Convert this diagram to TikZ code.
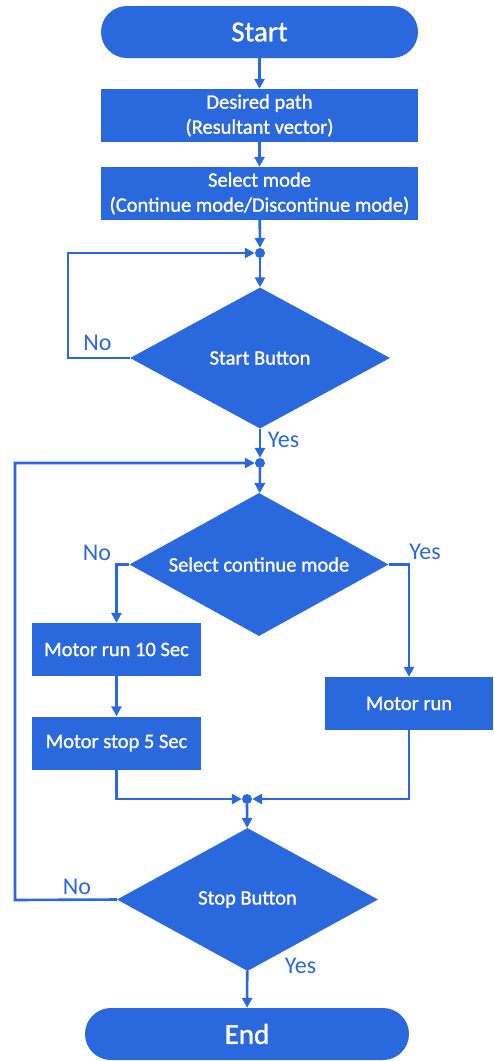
\documentclass[tikz,border=0pt]{standalone}
\usepackage{fontspec}
\setmainfont{Carlito}
\newfontfamily\boxfont[FakeBold=1.2]{Carlito}
\usetikzlibrary{shapes.geometric,arrows.meta}
\definecolor{fc}{RGB}{42,104,222}
\tikzset{
  term/.style={draw=none,fill=fc,text=white,rounded corners=26pt,minimum width=317pt,minimum height=52pt,inner sep=0pt,font=\boxfont\fontsize{29}{32}\selectfont},
  proc/.style={draw=none,fill=fc,text=white,minimum height=53pt,inner sep=0pt,align=center,font=\boxfont\fontsize{20.5}{25}\selectfont},
  dec/.style={draw=none,fill=fc,text=white,diamond,aspect=1.84,inner sep=0pt,minimum width=260pt,minimum height=141pt,font=\boxfont\fontsize{20.5}{25}\selectfont},
  dot/.style={circle,fill=fc,minimum size=10pt,inner sep=0pt},
  conn/.style={draw=fc,line width=2.6pt,-{Triangle[length=10pt,width=10pt]}},
  lab/.style={text=fc,font=\fontsize{24}{26}\selectfont,inner sep=0pt}
}
\begin{document}
\begin{tikzpicture}[x=1pt,y=-1pt]
\useasboundingbox (0,0) rectangle (494,1061);
\node[term] (start) at (259.5,32) {Start};
\node[proc,minimum width=317pt] (desired) at (259.5,115.5) {Desired path\\(Resultant vector)};
\node[proc,minimum width=317pt] (select) at (259.5,193.5) {Select mode\\(Continue mode/Discontinue mode)};
\node[dot] (j1) at (260,253) {};
\node[dec] (sb) at (260,358) {Start Button};
\node[dot] (j2) at (260,463) {};
\node[dec,minimum width=259pt,minimum height=143pt] (scm) at (259,564.5) {Select continue mode};
\node[proc,minimum width=169pt] (m10) at (116.5,649.5) {Motor run 10 Sec};
\node[proc,minimum width=169pt] (m5) at (116.5,743) {Motor stop 5 Sec};
\node[proc,minimum width=168pt] (mr) at (409,703.5) {Motor run};
\node[dot] (j3) at (247,799) {};
\node[dec,minimum width=261pt,minimum height=143pt] (stop) at (247.5,899.5) {Stop Button};
\node[term,minimum width=324pt] (end) at (247,1034) {End};
\coordinate (l1) at (68,358);
\coordinate (l2) at (15,900);

\draw[conn] (start) -- (desired);
\draw[conn] (desired) -- (select);
\draw[conn] (select) -- (j1);
\draw[conn] (j1) -- (sb);
\draw[conn] (sb.west) -- (l1) |- (j1);
\draw[conn] (sb) -- (j2);
\draw[conn] (j2) -- (scm);
\draw[conn] (scm.west) -| (m10.north);
\draw[conn] (scm.east) -| (mr.north);
\draw[conn] (m10) -- (m5);
\draw[conn] (m5.south) |- (j3);
\draw[conn] (mr.south) |- (j3);
\draw[conn] (j3) -- (stop);
\draw[conn] (stop.west) -- (l2) |- (j2);
\draw[conn] (stop) -- (end);

\node[lab] (no1) at (97.5,343) {No};
\node[lab] (yes1) at (283.5,440) {Yes};
\node[lab] (no2) at (97,553) {No};
\node[lab] (yes2) at (425,552) {Yes};
\node[lab] (no3) at (77,887) {No};
\node[lab] (yes3) at (300.5,966) {Yes};
\end{tikzpicture}
\end{document}
